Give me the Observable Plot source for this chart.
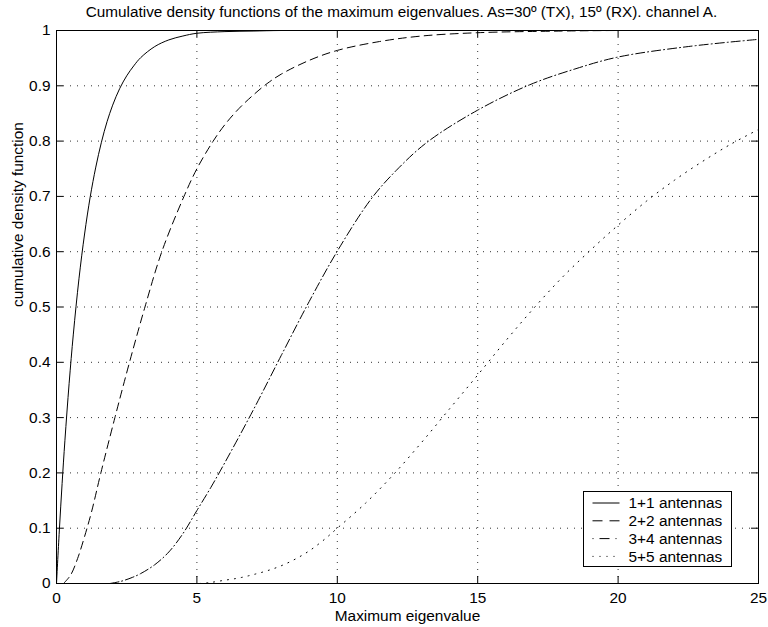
<!DOCTYPE html>
<html>
<head>
<meta charset="utf-8">
<script src="https://cdn.jsdelivr.net/npm/d3@7"></script>
<script src="https://cdn.jsdelivr.net/npm/@observablehq/plot@0.6"></script>
<style>
  body { margin: 0; background: #fff; }
  #chart svg { display: block; }
</style>
</head>
<body>
<div id="chart"></div>
<script>
// Axis ticks
const xTicks = [0, 5, 10, 15, 20, 25];
const yTicks = [0, 0.1, 0.2, 0.3, 0.4, 0.5, 0.6, 0.7, 0.8, 0.9, 1];

// Texts
const titleText = "Cumulative density functions of the maximum eigenvalues. As=30º (TX), 15º (RX). channel A.";
const xLabel = "Maximum eigenvalue";
const yLabel = "cumulative density function";
const seriesNames = ["1+1 antennas", "2+2 antennas", "3+4 antennas", "5+5 antennas"];

// 1+1 antennas
const v1 = [0, 0.1, 0.2, 0.3, 0.45, 0.6, 0.8, 1.0, 1.2, 1.4, 1.6, 1.8, 2.0, 2.25, 2.5, 2.75, 3.0, 3.5, 4.0, 4.5, 5, 6, 7, 8, 10, 15, 25];
const p1 = [0, 0.095, 0.181, 0.259, 0.362, 0.451, 0.551, 0.632, 0.699, 0.753, 0.798, 0.835, 0.865, 0.895, 0.918, 0.936, 0.951, 0.971, 0.983, 0.990, 0.995, 0.998, 0.999, 1, 1, 1, 1];

// 2+2 antennas
const v2 = [0.25, 0.5, 0.75, 1.0, 1.25, 1.58, 2.08, 2.6, 3.15, 3.75, 4.54, 5.0, 5.58, 6.0, 6.5, 7.0, 7.5, 8.0, 9.0, 10, 11.5, 13, 15, 18, 20, 25];
const p2 = [0, 0.015, 0.045, 0.085, 0.13, 0.2, 0.3, 0.4, 0.5, 0.6, 0.7, 0.75, 0.8, 0.83, 0.859, 0.883, 0.904, 0.921, 0.946, 0.964, 0.98, 0.99, 0.996, 0.999, 1, 1];

// 3+4 antennas
const v3 = [1.9, 2.3, 2.7, 3.0, 3.5, 4.0, 4.5, 5.0, 5.5, 6.0, 7.0, 8.0, 9.0, 10, 11.2, 12.1, 13.2, 15, 16.86, 18.5, 20, 22.5, 25];
const p3 = [0, 0.004, 0.011, 0.018, 0.034, 0.057, 0.09, 0.132, 0.174, 0.219, 0.313, 0.412, 0.51, 0.601, 0.695, 0.747, 0.798, 0.856, 0.902, 0.931, 0.952, 0.971, 0.984];

// 5+5 antennas
const v4 = [5.1, 5.5, 6.0, 6.5, 7.0, 7.5, 8.0, 8.5, 9.0, 9.5, 10, 11, 12, 13, 14, 15, 16, 17, 18, 19, 20, 21, 22, 23, 24, 25];
const p4 = [0, 0.002, 0.006, 0.01, 0.016, 0.023, 0.032, 0.044, 0.059, 0.078, 0.1, 0.145, 0.197, 0.255, 0.316, 0.377, 0.439, 0.498, 0.553, 0.602, 0.648, 0.691, 0.729, 0.763, 0.794, 0.821];

const dashes = [null, "8,5", "9,3,1,3", "1,6"];
const legendDashes = [null, "10,7", "1,6,10,6", "1,6"];
const seriesV = [v1, v2, v3, v4];
const seriesP = [p1, p2, p3, p4];
const rows = seriesNames.map((name, i) => seriesV[i].map((v, j) => ({series: name, v, p: seriesP[i][j]})));

const W = 768, H = 627;
const mL = 56, mR = 10, mT = 30, mB = 44;
const plotW = W - mL - mR, plotH = H - mT - mB;
const font = "'Liberation Sans', Arial, Helvetica, sans-serif";
const fs = 15.4;
const fsTitle = 15.3;

const fmt = d => String(d);

const chart = Plot.plot({
  width: W,
  height: H,
  marginLeft: mL,
  marginRight: mR,
  marginTop: mT,
  marginBottom: mB,
  x: {domain: [0, 25], axis: null},
  y: {domain: [0, 1], axis: null},
  style: {fontFamily: font, fontSize: fs + "px", background: "#fff", color: "#000"},
  marks: [
    // dotted grid
    Plot.ruleX(xTicks.slice(1, -1), {x: d => d, stroke: "#333", strokeWidth: 1, strokeDasharray: "1,6"}),
    Plot.ruleY(yTicks.slice(1, -1), {y: d => d, stroke: "#333", strokeWidth: 1, strokeDasharray: "1,6"}),
    // curves
    ...rows.map((r, i) => Plot.line(r, {
      x: "v", y: "p", stroke: "#000", strokeWidth: 1,
      strokeDasharray: dashes[i] ?? undefined, curve: "catmull-rom", clip: true
    })),
    // inward ticks on all four sides
    Plot.tickX(xTicks, {x: d => d, insetTop: plotH - 7, stroke: "#000"}),
    Plot.tickX(xTicks, {x: d => d, insetBottom: plotH - 7, stroke: "#000"}),
    Plot.tickY(yTicks, {y: d => d, insetRight: plotW - 7, stroke: "#000"}),
    Plot.tickY(yTicks, {y: d => d, insetLeft: plotW - 7, stroke: "#000"}),
    Plot.frame({stroke: "#000", strokeWidth: 1}),
    // tick labels
    Plot.text(xTicks, {x: d => d, frameAnchor: "bottom", dy: 15, text: fmt, lineAnchor: "middle", fontSize: fs}),
    Plot.text(yTicks, {y: d => d, frameAnchor: "left", dx: -6, text: fmt, textAnchor: "end", lineAnchor: "middle", fontSize: fs}),
    // axis labels and title
    Plot.text([xLabel], {frameAnchor: "bottom", dy: 33, lineAnchor: "middle", fontSize: fs}),
    Plot.text([yLabel], {frameAnchor: "left", dx: -38, rotate: -90, lineAnchor: "middle", fontSize: fs}),
    Plot.text([titleText], {frameAnchor: "top", dx: -6, dy: -18, lineAnchor: "middle", fontSize: fsTitle})
  ]
});

// legend box in the lower right of the axes
const svg = d3.select(chart);
const lg = svg.append("g").attr("transform", "translate(583.5,491.5)");
lg.append("rect").attr("width", 148).attr("height", 75)
  .attr("fill", "#fff").attr("stroke", "#000").attr("stroke-width", 1);
seriesNames.forEach((name, i) => {
  const y = 11.5 + i * 17.8;
  lg.append("line").attr("x1", 9).attr("x2", 36).attr("y1", y).attr("y2", y)
    .attr("stroke", "#000").attr("stroke-width", 1)
    .attr("stroke-dasharray", legendDashes[i]);
  lg.append("text").attr("x", 45).attr("y", y).attr("dy", "0.35em")
    .attr("text-anchor", "start")
    .attr("font-family", font).attr("font-size", fs).attr("fill", "#000").text(name);
});

document.getElementById("chart").append(chart);
</script>
</body>
</html>
